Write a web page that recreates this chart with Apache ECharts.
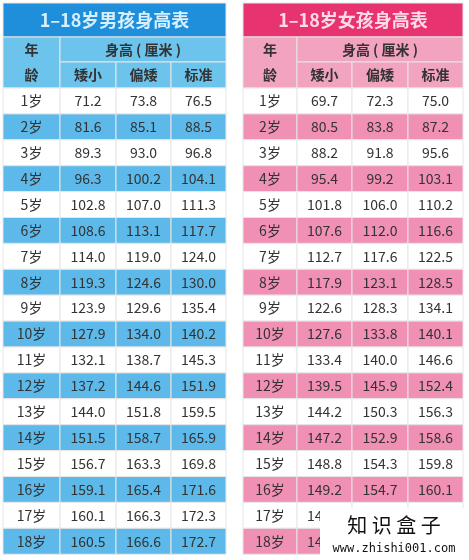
<!DOCTYPE html>
<html><head><meta charset="utf-8">
<script src="https://cdn.jsdelivr.net/npm/echarts@6/dist/echarts.min.js"></script>
<style>html,body{margin:0;padding:0;background:#fff}#main{width:469px;height:560px}</style>
</head><body><div id="main"></div>
<script>
var ages = ['1岁','2岁','3岁','4岁','5岁','6岁','7岁','8岁','9岁','10岁','11岁','12岁','13岁','14岁','15岁','16岁','17岁','18岁'];
var subHeads = ['矮小', '偏矮', '标准'];
var boyShort = [71.2,81.6,89.3,96.3,102.8,108.6,114.0,119.3,123.9,127.9,132.1,137.2,144.0,151.5,156.7,159.1,160.1,160.5];
var boyLow = [73.8,85.1,93.0,100.2,107.0,113.1,119.0,124.6,129.6,134.0,138.7,144.6,151.8,158.7,163.3,165.4,166.3,166.6];
var boyStd = [76.5,88.5,96.8,104.1,111.3,117.7,124.0,130.0,135.4,140.2,145.3,151.9,159.5,165.9,169.8,171.6,172.3,172.7];
var girlShort = [69.7,80.5,88.2,95.4,101.8,107.6,112.7,117.9,122.6,127.6,133.4,139.5,144.2,147.2,148.8,149.2,149.5,149.8];
var girlLow = [72.3,83.8,91.8,99.2,106.0,112.0,117.6,123.1,128.3,133.8,140.0,145.9,150.3,152.9,154.3,154.7,155.0,155.3];
var girlStd = [75.0,87.2,95.6,103.1,110.2,116.6,122.5,128.5,134.1,140.1,146.6,152.4,156.3,158.6,159.8,160.1,160.4,160.6];

var chart = echarts.init(document.getElementById('main'));
var els = [];
function rect(x, y, w, h, fill) {
	els.push({type: 'rect', shape: {x: x, y: y, width: w, height: h}, style: {fill: fill, stroke: '#e6e6e6', lineWidth: 1}});
}
function text(x, y, t, size, color, weight) {
	els.push({type: 'text', x: x, y: y, style: {text: t, fontSize: size, fill: color, fontWeight: weight || 'normal',
		align: 'center', verticalAlign: 'middle', fontFamily: 'Noto Sans CJK SC'}});
}
function table(x0, cols, title, titleBg, titleColor, headBg, rowBg, data) {
	var w = cols[cols.length - 1] - x0;
	rect(x0, 3, w, 34, titleBg);
	text(x0 + w / 2, 20, title, 18, titleColor, 'bold');
	rect(x0, 37, cols[0] - x0, 51, headBg);
	text((x0 + cols[0]) / 2, 50, '年', 14, '#333', 'bold');
	text((x0 + cols[0]) / 2, 75, '龄', 14, '#333', 'bold');
	rect(cols[0], 37, cols[3] - cols[0], 25, headBg);
	text((cols[0] + cols[3]) / 2, 50, '身高 ( 厘米 )', 14, '#333', 'bold');
	for (var c = 0; c < 3; c++) {
		var l = c ? cols[c] : cols[0];
		rect(l, 62, cols[c + 1] - l, 26, headBg);
		text((l + cols[c + 1]) / 2, 75, subHeads[c], 14, '#333', 'bold');
	}
	var rh = 25.9;
	for (var i = 0; i < ages.length; i++) {
		var y = 88 + i * rh;
		var bg = i % 2 ? rowBg : '#ffffff';
		rect(x0, y, cols[0] - x0, rh, bg);
		text((x0 + cols[0]) / 2, y + rh / 2, ages[i], 14, '#333');
		for (var c = 0; c < 3; c++) {
			rect(cols[c], y, cols[c + 1] - cols[c], rh, bg);
			text((cols[c] + cols[c + 1]) / 2, y + rh / 2, data[c][i].toFixed(1), 14, '#333');
		}
	}
}
table(3, [60, 116, 171, 226], '1–18岁男孩身高表', '#1f8fdc', '#d6f0ff', '#6cc3ec', '#5cb9e9', [boyShort, boyLow, boyStd]);
table(243, [297, 352, 408, 463], '1–18岁女孩身高表', '#e7336f', '#ffdbe7', '#f2a3bf', '#f090b4', [girlShort, girlLow, girlStd]);
// watermark
els.push({type: 'rect', shape: {x: 320, y: 508, width: 149, height: 52}, style: {fill: '#ffffff'}});
els.push({type: 'text', x: 394, y: 525, style: {text: '知 识 盒 子', fontSize: 20, fill: '#111', align: 'center', verticalAlign: 'middle', fontFamily: 'Noto Sans CJK SC'}});
els.push({type: 'text', x: 394, y: 549, style: {text: 'www.zhishi001.com', fontSize: 12, fill: '#111', align: 'center', verticalAlign: 'middle', fontFamily: 'DejaVu Sans Mono'}});

chart.setOption({backgroundColor: '#fff', graphic: els});
</script></body></html>
